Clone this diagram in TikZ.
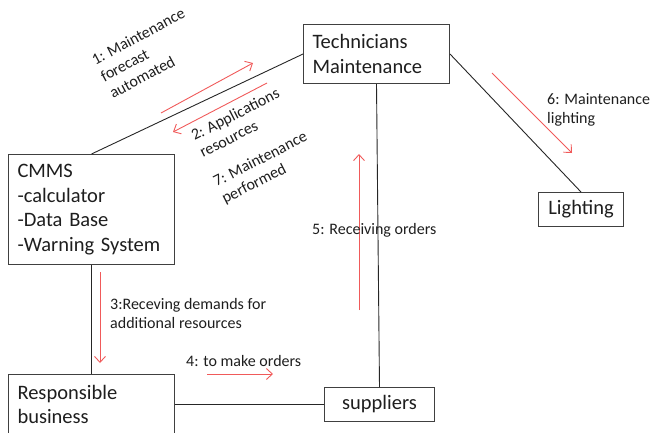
\documentclass[tikz,border=0pt]{standalone}
\usepackage{fontspec}
\setmainfont{Carlito}
\usetikzlibrary{arrows.meta}
\definecolor{redarrow}{RGB}{240,90,90}
\definecolor{boxline}{RGB}{64,64,64}
\definecolor{txt}{RGB}{30,30,30}
\begin{document}
\begin{tikzpicture}[x=1pt,y=-1pt,
  box/.style={draw=boxline, line width=1pt, inner xsep=9pt, inner ysep=0pt, font=\fontsize{20.5}{24.5}\selectfont, text=txt},
  lbl/.style={font=\fontsize{16}{19}\selectfont, inner sep=0pt, align=left, text=txt},
  conn/.style={draw=black!85, line width=0.9pt},
  flow/.style={draw=redarrow, line width=0.9pt, -{Straight Barb[length=6pt,width=11pt]}}]
\useasboundingbox (0,0) rectangle (651,432);
% boxes
\node[box, anchor=north west, align=left, text width=128pt, minimum height=59pt] (tech) at (303,24) {Technicians\\Maintenance};
\node[box, anchor=north west, align=left, text width=148pt, minimum height=110pt] (cmms) at (8,154) {CMMS\\-calculator\\-Data Base\\-Warning System};
\node[box, anchor=north west, align=center, minimum width=85pt, minimum height=34pt] (light) at (538,192) {Lighting};
\node[box, anchor=north west, align=center, minimum width=110pt, minimum height=34pt] (supp) at (324,387) {suppliers};
\node[box, anchor=north west, align=left, text width=148pt, minimum height=60pt] (resp) at (8,374) {Responsible\\business};
% connectors
\draw[conn] (cmms.north) -- (tech.west);
\draw[conn] (tech.east) -- (light.north);
\draw[conn] (tech.south) -- (supp.north);
\draw[conn] (cmms.south) -- (resp.north);
\draw[conn] (resp.east) -- (supp.west);
% flow arrows
\coordinate (a1s) at (161,113); \coordinate (a1e) at (253,63);
\coordinate (a2s) at (267,83);  \coordinate (a2e) at (173,132);
\coordinate (a3s) at (100,272); \coordinate (a3e) at (100,363);
\coordinate (a4s) at (207,374); \coordinate (a4e) at (273,374);
\coordinate (a5s) at (359,310); \coordinate (a5e) at (359,154);
\coordinate (a6s) at (492,73);  \coordinate (a6e) at (572,153);
\draw[flow] (a1s) -- (a1e);
\draw[flow] (a2s) -- (a2e);
\draw[flow] (a3s) -- (a3e);
\draw[flow] (a4s) -- (a4e);
\draw[flow] (a5s) -- (a5e);
\draw[flow] (a6s) -- (a6e);
% labels (base anchor = baseline of last line)
\node[lbl, rotate=28, anchor=base west] (l1) at (113,99) {1: Maintenance\\forecast\\automated};
\node[lbl, rotate=27, anchor=base west] (l2) at (203,158) {2: Applications\\resources};
\node[lbl, rotate=27, anchor=base west] (l7) at (225,204) {7: Maintenance\\performed};
\node[lbl, anchor=base west] (l3) at (110,328) {3:Receving demands for\\additional resources};
\node[lbl, anchor=base west] (l4) at (186,366) {4: to make orders};
\node[lbl, anchor=base west] (l5) at (312,234) {5: Receiving orders};
\node[lbl, anchor=base west] (l6) at (547,123) {6: Maintenance\\lighting};
\end{tikzpicture}
\end{document}
